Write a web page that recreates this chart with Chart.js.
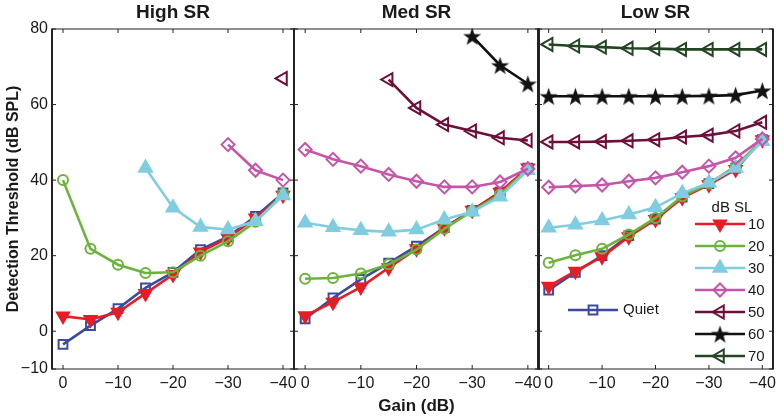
<!DOCTYPE html>
<html>
<head>
<meta charset="utf-8">
<title>Detection threshold vs gain</title>
<script src="https://cdn.jsdelivr.net/npm/chart.js@4.4.1/dist/chart.umd.min.js"></script>
<style>
  html, body { margin: 0; padding: 0; background: #fff; }
  #wrap { position: relative; width: 784px; height: 419px; }
  #wrap canvas { position: absolute; left: 0; top: 0; }
</style>
</head>
<body>
<div id="wrap">
  <canvas id="high-sr" width="784" height="419"></canvas>
  <canvas id="med-sr" width="784" height="419"></canvas>
  <canvas id="low-sr" width="784" height="419"></canvas>
</div>
<script>
'use strict';

const gains = [0, -5, -10, -15, -20, -25, -30, -35, -40];
const xTicks = [0, -10, -20, -30, -40];
const yTicks = [-10, 0, 20, 40, 60, 80];
const levelLabels = ['Quiet', '10', '20', '30', '40', '50', '60', '70'];
const panelTitles = ['High SR', 'Med SR', 'Low SR'];

// High SR
const highQuiet = [-3.5, 1.5, 6, 11.5, 15.6, 21.6, 25, 30.4, 36.6];
const high10 = [4, 3.1, 5, 10, 15, 21, 24.7, 30, 36];
const high20 = [40, 21.8, 17.6, 15.4, 15.6, 20, 23.8, 29, 36.4];
const high30 = [null, null, null, 43.2, 32.7, 27.6, 26.9, 29.1, 35.9];
const high40 = [null, null, null, null, null, null, 49.4, 42.6, 40];
const high50 = [null, null, null, null, null, null, null, null, 66.9];
const high60 = [null, null, null, null, null, null, null, null, null];
const high70 = [null, null, null, null, null, null, null, null, null];

// Med SR
const medQuiet = [3.3, 8.8, 13.7, 18, 22.5, 27.4, 32, 36.8, 43.2];
const med10 = [4.1, 7.7, 11.7, 16.8, 21.8, 27.4, 32, 36.8, 43.2];
const med20 = [13.9, 14.1, 15.3, 17.7, 21.6, 27.1, 31.8, 36.2, 43];
const med30 = [28.7, 27.5, 26.7, 26.3, 26.9, 29.6, 31.6, 35.6, 42.6];
const med40 = [48.1, 45.5, 43.7, 41.5, 39.7, 38.2, 38.2, 39.5, 43];
const med50 = [null, null, null, 66.6, 59.1, 54.7, 53, 51.2, 50.5];
const med60 = [null, null, null, null, null, null, 78.1, 70.4, 65.5];
const med70 = [null, null, null, null, null, null, null, null, null];

// Low SR
const lowQuiet = [10.9, 15.6, 20, 25.3, 29.7, 35.5, 39.1, 43.2, 50.7];
const low10 = [11.9, 15.9, 19.7, 25, 29.6, 35.3, 38.8, 42.8, 50.7];
const low20 = [18.1, 20.1, 21.8, 25.6, 30, 35.7, 39.1, 43.7, 50.7];
const low30 = [27.4, 28.2, 29.3, 30.9, 32.8, 36.5, 39.3, 43.2, 50.3];
const low40 = [38.1, 38.4, 38.7, 39.7, 40.6, 42.1, 43.7, 45.9, 50.9];
const low50 = [50.1, 50.1, 50.2, 50.4, 50.7, 51.4, 51.9, 53, 55.3];
const low60 = [62.2, 62.2, 62.2, 62.2, 62.2, 62.2, 62.3, 62.5, 63.7];
const low70 = [75.9, 75.5, 75.2, 74.9, 74.8, 74.6, 74.6, 74.6, 74.6];

const panelSeries = [
  [highQuiet, high10, high20, high30, high40, high50, high60, high70],
  [medQuiet, med10, med20, med30, med40, med50, med60, med70],
  [lowQuiet, low10, low20, low30, low40, low50, low60, low70],
];

const FONT = '"Liberation Sans", Arial, Helvetica, sans-serif';
const TEXT = '#1a1a1a';

function makeStar(size) {
  const c = document.createElement('canvas');
  c.width = c.height = size;
  const g = c.getContext('2d');
  g.fillStyle = '#111';
  g.beginPath();
  for (let i = 0; i < 10; i++) {
    const r = i % 2 ? size * 0.2 : size * 0.5;
    const a = -Math.PI / 2 + i * Math.PI / 5;
    g.lineTo(size / 2 + r * Math.cos(a), size / 2 + r * Math.sin(a) + size * 0.05);
  }
  g.closePath();
  g.fill();
  return c;
}
const starImage = makeStar(19);

// look of each level, same order as levelLabels
const seriesStyles = [
  { color: '#3b4a9c', fill: 'rgba(0,0,0,0)', style: 'rect', rotation: 0, radius: 6.2 },
  { color: '#e41e26', fill: '#e41e26', style: 'triangle', rotation: 180, radius: 7 },
  { color: '#6cb33e', fill: 'rgba(0,0,0,0)', style: 'circle', rotation: 0, radius: 5 },
  { color: '#80cce0', fill: '#80cce0', style: 'triangle', rotation: 0, radius: 7.5 },
  { color: '#c455a8', fill: 'rgba(0,0,0,0)', style: 'rectRot', rotation: 0, radius: 6.5 },
  { color: '#6e0f3a', fill: 'rgba(0,0,0,0)', style: 'triangle', rotation: 270, radius: 7.5 },
  { color: '#111111', fill: '#111111', style: starImage, rotation: 0, radius: 9 },
  { color: '#244424', fill: 'rgba(0,0,0,0)', style: 'triangle', rotation: 270, radius: 7.5 },
];

function buildDatasets(seriesList) {
  return seriesList.map((values, i) => {
    const st = seriesStyles[i];
    const points = [];
    values.forEach((v, j) => {
      if (v !== null) points.push({ x: gains[j], y: v });
    });
    return {
      label: levelLabels[i],
      data: points,
      borderColor: st.color,
      backgroundColor: st.fill,
      pointBackgroundColor: st.fill,
      pointBorderColor: st.color,
      pointStyle: st.style,
      pointRotation: st.rotation,
      pointRadius: st.radius,
      pointHoverRadius: st.radius,
      pointBorderWidth: 2,
      borderWidth: 2.6,
      tension: 0,
      clip: false,
      order: levelLabels.length - i,
    };
  });
}

function line(ctx, x1, y1, x2, y2) {
  ctx.beginPath();
  ctx.moveTo(x1, y1);
  ctx.lineTo(x2, y2);
  ctx.stroke();
}

// box with inward ticks plus the panel title
const framePlugin = {
  id: 'frame',
  afterDatasetsDraw(chart, args, opts) {
    const { ctx, chartArea: a, scales: { x, y } } = chart;
    ctx.save();
    ctx.strokeStyle = '#222';
    ctx.lineWidth = 1.2;
    line(ctx, a.left, a.top, a.right, a.top);
    line(ctx, a.left, a.bottom, a.right, a.bottom);
    ctx.lineWidth = 2;
    line(ctx, a.left, a.top - 0.6, a.left, a.bottom + 0.6);
    line(ctx, a.right, a.top - 0.6, a.right, a.bottom + 0.6);
    ctx.lineWidth = 1;
    xTicks.forEach((v) => {
      const px = x.getPixelForValue(v);
      line(ctx, px, a.bottom, px, a.bottom - 4);
      line(ctx, px, a.top, px, a.top + 4);
    });
    yTicks.forEach((v) => {
      const py = y.getPixelForValue(v);
      line(ctx, a.left, py, a.left + 4, py);
      line(ctx, a.right, py, a.right - 4, py);
    });
    ctx.fillStyle = TEXT;
    ctx.font = 'bold 19px ' + FONT;
    ctx.textAlign = 'center';
    ctx.textBaseline = 'middle';
    ctx.fillText(opts.title, (a.left + a.right) / 2, 13);
    ctx.restore();
  }
};

function drawLegendItem(ctx, ds, x1, x2, y) {
  ctx.save();
  ctx.strokeStyle = ds.borderColor;
  ctx.lineWidth = ds.borderWidth;
  line(ctx, x1, y, x2, y);
  ctx.fillStyle = ds.pointBackgroundColor;
  ctx.lineWidth = ds.pointBorderWidth;
  Chart.helpers.drawPoint(ctx, {
    pointStyle: ds.pointStyle,
    rotation: ds.pointRotation,
    radius: ds.pointRadius,
    borderWidth: ds.pointBorderWidth,
  }, (x1 + x2) / 2, y);
  ctx.restore();
}

const legendPlugin = {
  id: 'levelLegend',
  afterDraw(chart) {
    const { ctx, chartArea: a } = chart;
    const sets = chart.data.datasets;
    ctx.save();
    ctx.fillStyle = TEXT;
    ctx.textBaseline = 'middle';
    ctx.font = '15px ' + FONT;
    ctx.textAlign = 'center';
    ctx.fillText('dB SL', a.right - 41, 208);
    ctx.textAlign = 'left';
    for (let i = 1; i < sets.length; i++) {
      const yy = 224 + (i - 1) * 22;
      drawLegendItem(ctx, sets[i], a.right - 78, a.right - 28, yy);
      ctx.fillStyle = TEXT;
      ctx.fillText(sets[i].label, a.right - 25, yy + 1);
    }
    drawLegendItem(ctx, sets[0], a.left + 30, a.left + 80, 310);
    ctx.fillStyle = TEXT;
    ctx.fillText(sets[0].label, a.left + 85, 310);
    ctx.restore();
  }
};

function formatTick(v) {
  return v < 0 ? '\u2212' + Math.abs(v) : String(v);
}

function makePanel(canvasId, index, padLeft, padRight, showY, showXTitle) {
  const plugins = [framePlugin];
  if (index === 2) plugins.push(legendPlugin);
  return new Chart(document.getElementById(canvasId).getContext('2d'), {
    type: 'line',
    data: { datasets: buildDatasets(panelSeries[index]) },
    options: {
      responsive: false,
      animation: false,
      events: [],
      layout: { padding: { left: padLeft, right: padRight, top: 29, bottom: 0 } },
      plugins: {
        legend: { display: false },
        tooltip: { enabled: false },
        frame: { title: panelTitles[index] },
      },
      scales: {
        x: {
          type: 'linear',
          reverse: true,
          min: -42,
          max: 2,
          afterBuildTicks: (scale) => { scale.ticks = xTicks.map((v) => ({ value: v })); },
          afterFit: (scale) => { scale.height = 50; },
          grid: { display: false, drawTicks: false },
          border: { display: false },
          ticks: {
            color: TEXT,
            padding: 5,
            maxRotation: 0,
            font: { family: FONT, size: 16 },
            callback: formatTick,
          },
          title: {
            display: showXTitle,
            text: 'Gain (dB)',
            color: TEXT,
            padding: { top: 0, bottom: 2 },
            font: { family: FONT, size: 17, weight: 'bold' },
          },
        },
        y: {
          type: 'linear',
          display: showY,
          min: -10,
          max: 80,
          afterBuildTicks: (scale) => { scale.ticks = yTicks.map((v) => ({ value: v })); },
          afterFit: (scale) => { scale.width = showY ? 52 : 0; },
          grid: { display: false, drawTicks: false },
          border: { display: false },
          ticks: {
            color: TEXT,
            padding: 4,
            font: { family: FONT, size: 16 },
            callback: formatTick,
          },
          title: {
            display: true,
            text: 'Detection Threshold (dB SPL)',
            color: TEXT,
            padding: { top: 4, bottom: 0 },
            font: { family: FONT, size: 16, weight: 'bold' },
          },
        },
      },
    },
    plugins: plugins,
  });
}

makePanel('high-sr', 0, 0, 490, true, false);
makePanel('med-sr', 1, 294, 245, false, true);
makePanel('low-sr', 2, 538, 4, false, false);
</script>
</body>
</html>
